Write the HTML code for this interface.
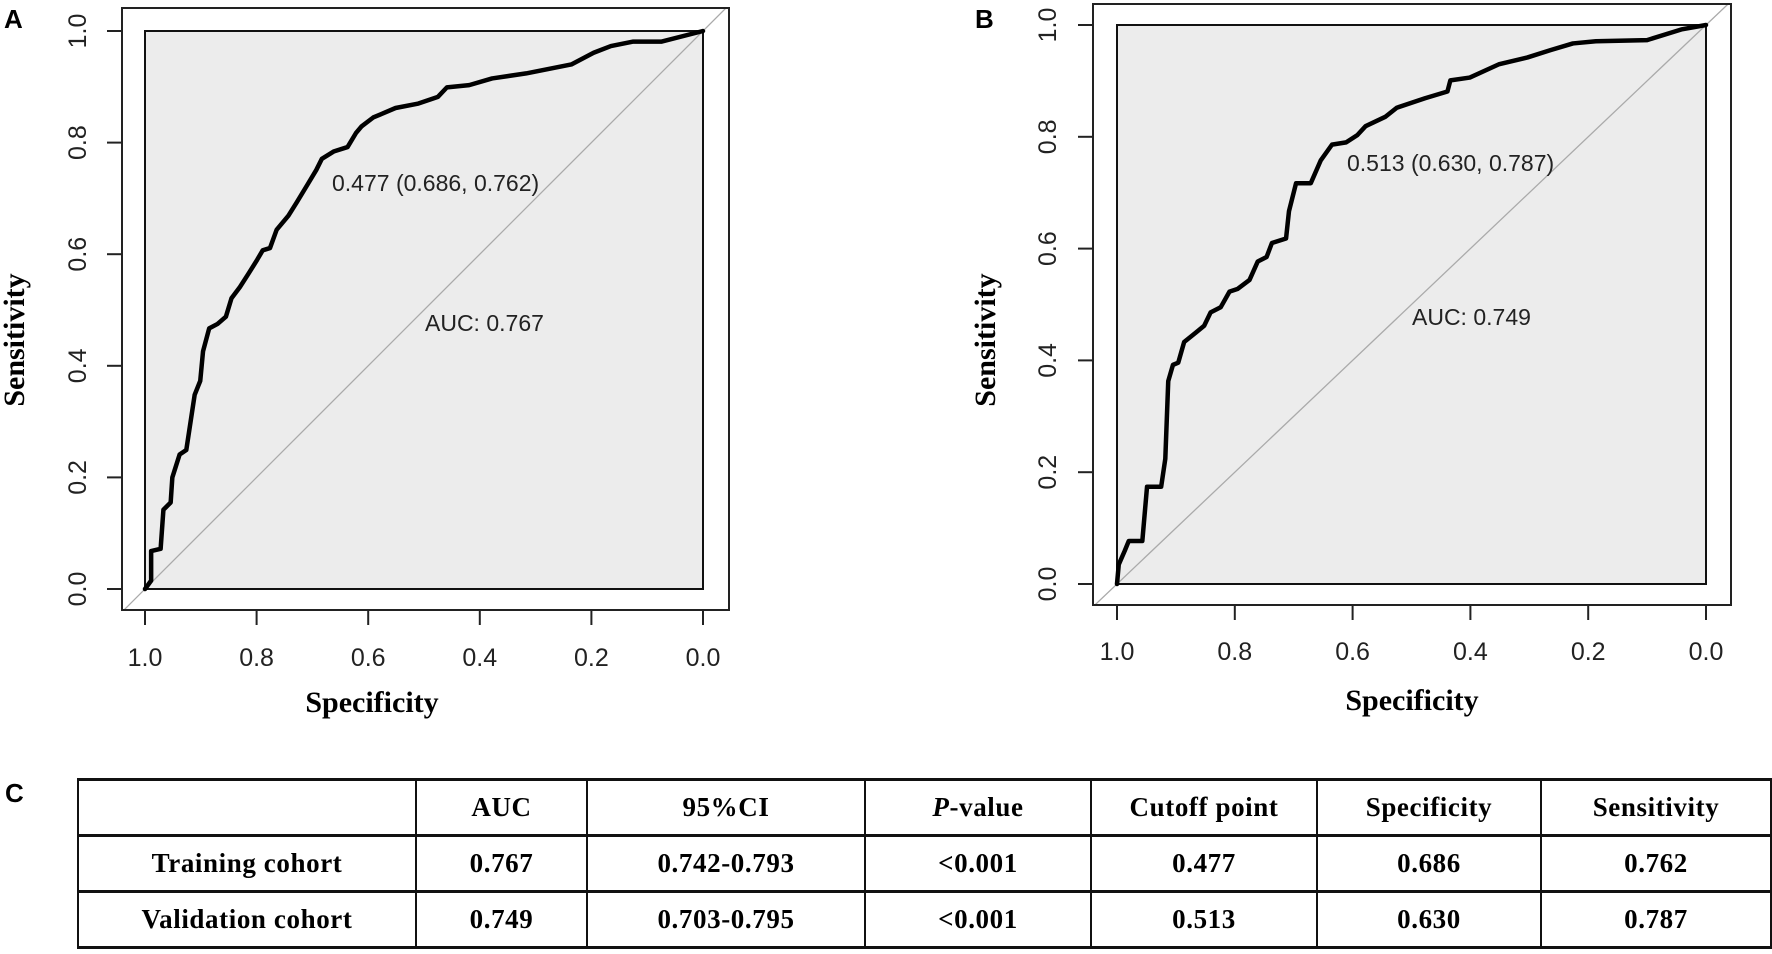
<!DOCTYPE html>
<html><head><meta charset="utf-8">
<style>
body{margin:0;background:#fff;width:1772px;height:954px;overflow:hidden;position:relative;font-family:"Liberation Sans",Arial,sans-serif}
svg{position:absolute;left:0;top:0}
table{position:absolute;left:77px;top:778px;width:1695px;border-collapse:collapse;font-family:"Liberation Serif",serif;font-weight:bold;font-size:27px;letter-spacing:0.6px}
td{border-left:2px solid #111;border-right:2px solid #111;text-align:center;padding:0;height:53px;line-height:53px}
tr{border-top:3px solid #111;border-bottom:3px solid #111}
</style></head><body>
<svg id="chart" width="1772" height="954"></svg>
<div style="position:absolute;left:5px;top:778px;font-weight:bold;font-size:26px">C</div>
<table>
<tr><td style="width:336px"></td><td style="width:169px">AUC</td><td style="width:276px">95%CI</td><td style="width:224px"><i>P</i>-value</td><td style="width:224px">Cutoff point</td><td style="width:222px">Specificity</td><td>Sensitivity</td></tr>
<tr><td>Training cohort</td><td>0.767</td><td>0.742-0.793</td><td>&lt;0.001</td><td>0.477</td><td>0.686</td><td>0.762</td></tr>
<tr><td>Validation cohort</td><td>0.749</td><td>0.703-0.795</td><td>&lt;0.001</td><td>0.513</td><td>0.630</td><td>0.787</td></tr>
</table>
<script>
const ticks=[1.0,0.8,0.6,0.4,0.2,0.0];
const tickLabels=["1.0","0.8","0.6","0.4","0.2","0.0"];
const specA=[1.000,0.989,0.989,0.972,0.967,0.954,0.951,0.938,0.926,0.911,0.901,0.896,0.885,0.870,0.855,0.845,0.830,0.814,0.799,0.789,0.776,0.764,0.743,0.728,0.708,0.693,0.683,0.662,0.637,0.622,0.612,0.591,0.551,0.510,0.475,0.459,0.419,0.378,0.317,0.236,0.196,0.165,0.125,0.074,0.000];
const sensA=[0.000,0.015,0.068,0.072,0.142,0.155,0.200,0.241,0.249,0.348,0.373,0.426,0.467,0.475,0.488,0.521,0.541,0.566,0.590,0.607,0.611,0.644,0.669,0.693,0.726,0.751,0.771,0.784,0.792,0.817,0.829,0.845,0.862,0.870,0.882,0.899,0.903,0.915,0.924,0.940,0.961,0.973,0.981,0.981,1.000];
const specB=[1.000,0.997,0.987,0.980,0.957,0.949,0.925,0.918,0.913,0.905,0.896,0.886,0.867,0.852,0.841,0.824,0.809,0.795,0.775,0.761,0.746,0.737,0.713,0.708,0.696,0.671,0.654,0.635,0.611,0.592,0.578,0.544,0.525,0.477,0.439,0.434,0.401,0.351,0.303,0.264,0.226,0.187,0.100,0.042,0.000];
const sensB=[0.000,0.035,0.059,0.077,0.077,0.174,0.174,0.224,0.363,0.392,0.396,0.433,0.449,0.462,0.486,0.495,0.523,0.528,0.544,0.577,0.585,0.610,0.618,0.667,0.717,0.717,0.758,0.786,0.790,0.803,0.819,0.836,0.852,0.869,0.881,0.901,0.906,0.930,0.942,0.955,0.967,0.971,0.973,0.992,1.000];
const cut=[["0.477 (0.686, 0.762)","AUC: 0.767"],["0.513 (0.630, 0.787)","AUC: 0.749"]];
const NS="http://www.w3.org/2000/svg";
const svg=document.getElementById('chart');
function mk(t,a,p){const e=document.createElementNS(NS,t);for(const k in a)e.setAttribute(k,a[k]);(p||svg).appendChild(e);return e;}
const panels=[
 {lab:"A",labX:4,ox:122,oy:8,ow:607,oh:602,x0:145,x1:703,y0:589,y1:31,spec:specA,sens:sensA,ann:[332,183,425,323],tl:657,st:702,sx:14,stx:372,ylx:77},
 {lab:"B",labX:975,ox:1093,oy:4,ow:638,oh:601,x0:1117,x1:1706,y0:584,y1:25,spec:specB,sens:sensB,ann:[1347,163,1412,317],tl:651,st:700,sx:985,stx:1412,ylx:1047}
];
panels.forEach((P,i)=>{
 const g=mk('g',{});
 
 
 const X=s=>P.x0+(1-s)*(P.x1-P.x0), Y=v=>P.y0+v*(P.y1-P.y0);
 const l=mk('text',{x:P.labX,y:28,'font-size':26,'font-weight':'bold','font-family':'Liberation Sans'},g);l.textContent=P.lab;
 
 const bg=mk('rect',{x:X(1),y:Y(1),width:X(0)-X(1),height:Y(0)-Y(1),fill:'#ececec',stroke:'#111','stroke-width':2},g);
 
 const cp=mk('clipPath',{id:'c'+i},g);mk('rect',{x:P.ox,y:P.oy,width:P.ow,height:P.oh},cp);
 const ext=0.2;
 const d=mk('line',{x1:X(1+ext),y1:Y(-ext),x2:X(-ext),y2:Y(1+ext),stroke:'#aaa','stroke-width':1.3,'clip-path':'url(#c'+i+')'},g);
 
 const ob=mk('rect',{x:P.ox,y:P.oy,width:P.ow,height:P.oh,fill:'none',stroke:'#222','stroke-width':2},g);
 
 ticks.forEach((t,k)=>{
  mk('line',{x1:X(t),x2:X(t),y1:P.oy+P.oh,y2:P.oy+P.oh+15,stroke:'#222','stroke-width':2},g);
  const tx=mk('text',{x:X(t),y:P.tl+9,'text-anchor':'middle','font-size':25,fill:'#222'},g);tx.textContent=tickLabels[k];
  
  const yv=1-t;
  mk('line',{x1:P.ox,x2:P.ox-15,y1:Y(yv),y2:Y(yv),stroke:'#222','stroke-width':2},g);
  const ty=mk('text',{x:P.ylx,y:Y(yv),'text-anchor':'middle','font-size':25,fill:'#222',transform:`rotate(-90 ${P.ylx} ${Y(yv)}) translate(0 9)`},g);ty.textContent=tickLabels[5-k];
  
 });
 const xt=mk('text',{x:P.stx,y:P.st+10,'text-anchor':'middle','font-size':30,'font-weight':'bold','font-family':'Liberation Serif'},g);xt.textContent='Specificity';
 
 const yt=mk('text',{x:P.sx,y:340,'text-anchor':'middle','font-size':30,'font-weight':'bold','font-family':'Liberation Serif',transform:`rotate(-90 ${P.sx} 340) translate(0 10)`},g);yt.textContent='Sensitivity';
 
 const pts=P.spec.map((s,k)=>X(s)+','+Y(P.sens[k])).join(' ');
 const c=mk('polyline',{points:pts,fill:'none',stroke:'#000','stroke-width':4.5,'stroke-linejoin':'round','stroke-linecap':'round'},g);
 
 const a1=mk('text',{x:P.ann[0],y:P.ann[1]+8,'font-size':23,fill:'#222'},g);a1.textContent=cut[i][0];
 
 const a2=mk('text',{x:P.ann[2],y:P.ann[3]+8,'font-size':23,fill:'#222'},g);a2.textContent=cut[i][1];
 
});
</script>
</body></html>
